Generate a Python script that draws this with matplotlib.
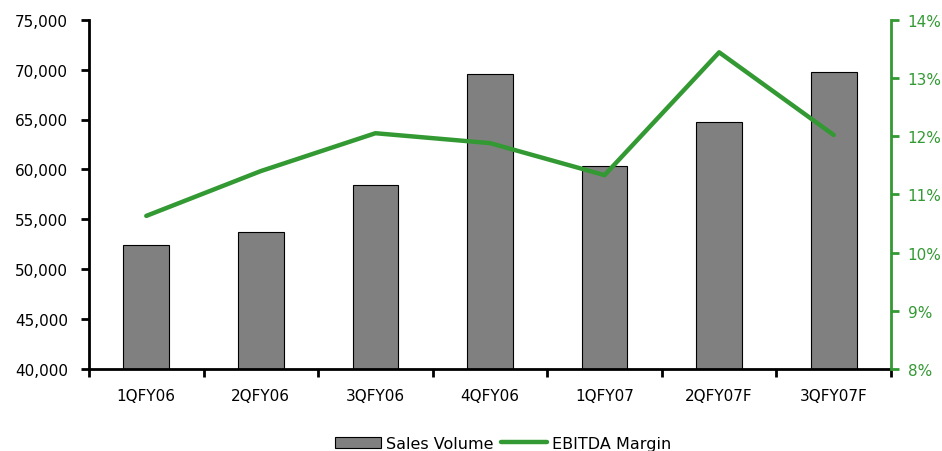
import matplotlib
matplotlib.use("Agg")
import matplotlib.pyplot as plt
from matplotlib.ticker import FuncFormatter, FixedLocator
import numpy as np

categories = ["1QFY06", "2QFY06", "3QFY06", "4QFY06", "1QFY07", "2QFY07F", "3QFY07F"]
sales_volume = [52400, 53700, 58400, 69600, 60300, 64700, 69800]
ebitda_margin = [10.63, 11.40, 12.05, 11.88, 11.33, 13.44, 12.02]

GREEN = "#339933"
GRAY = "#808080"

plt.rcParams["font.family"] = ["DejaVu Sans"]
plt.rcParams["font.size"] = 11

fig = plt.figure(figsize=(9.42, 4.52), dpi=100)
ax = fig.add_axes([89/942, 1-370/452, 802/942, (370-20.7)/452])
x = np.arange(len(categories))
bars = ax.bar(x, sales_volume, width=0.4, color=GRAY, edgecolor="black", linewidth=0.8,
              label="Sales Volume", zorder=2)
ax.set_xlim(-0.5, len(categories) - 0.5)
ax.set_ylim(40000, 75000)
ax.set_yticks(np.arange(40000, 75001, 5000))
ax.yaxis.set_major_formatter(FuncFormatter(lambda v, p: f"{int(v):,}"))
ax.set_xticks(x)
ax.set_xticklabels(categories)
ax.tick_params(axis="x", which="major", length=0, pad=14)
ax.xaxis.set_minor_locator(FixedLocator(np.arange(-0.5, len(categories), 1.0)))
ax.tick_params(axis="x", which="minor", length=6, width=2, direction="out")
ax.tick_params(axis="y", length=6, width=2, direction="out", pad=9)
for s in ["top", "right"]:
    ax.spines[s].set_visible(False)
ax.spines["left"].set_linewidth(2)
ax.spines["bottom"].set_linewidth(2)

ax2 = ax.twinx()
line, = ax2.plot(x, ebitda_margin, color=GREEN, linewidth=3.2, label="EBITDA Margin",
                 solid_capstyle="round", zorder=3)
ax2.set_ylim(8, 14)
ax2.set_yticks(np.arange(8, 14.01, 1))
ax2.yaxis.set_major_formatter(FuncFormatter(lambda v, p: f"{int(round(v))}%"))
ax2.tick_params(axis="y", colors=GREEN, length=6, width=2, direction="out", pad=6)
for s in ["top", "left", "bottom"]:
    ax2.spines[s].set_visible(False)
ax2.spines["right"].set_color(GREEN)
ax2.spines["right"].set_linewidth(2)

fig.legend([bars, line], ["Sales Volume", "EBITDA Margin"], loc="center",
           bbox_to_anchor=(0.534, 0.017), ncol=2, frameon=False,
           handlelength=2.9, handletextpad=0.3, columnspacing=0.5, fontsize=11.5)

fig.savefig("out.png", dpi=100)
